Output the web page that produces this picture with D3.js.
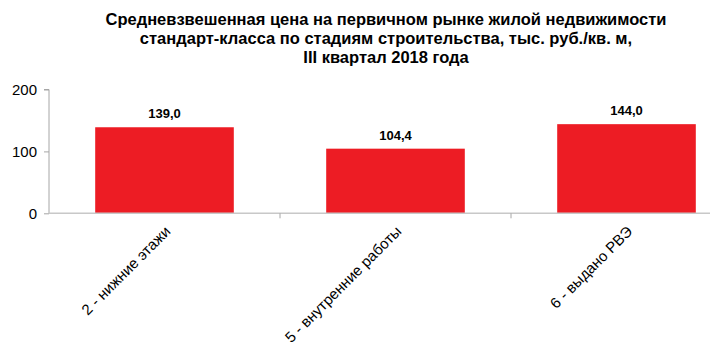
<!DOCTYPE html>
<html lang="ru">
<head>
<meta charset="UTF-8">
<title>Chart</title>
<style>
  body { margin: 0; background: #fff; }
  svg { font-family: "Liberation Sans", Arial, sans-serif; }
</style>
</head>
<body>
<svg width="710" height="352" id="svg"></svg>
<script src="https://d3js.org/d3.v7.min.js"></script>
<script>
const categories = ["2 - нижние этажи", "5 - внутренние работы", "6 - выдано РВЭ"]
const values = [139.0, 104.4, 144.0]
const yTicks = [0, 100, 200]
const titleLines = [
  "Средневзвешенная цена на первичном рынке жилой недвижимости",
  "стандарт-класса по стадиям строительства, тыс. руб./кв. м,",
  "III квартал 2018 года"
]

const svg = d3.select("svg#svg")
const plotLeft = 49, plotRight = 742, plotTop = 89.5, plotBottom = 213.3

const x = d3.scaleBand().domain(categories).range([plotLeft, plotRight])
  .paddingInner(0.4).paddingOuter(0.2)
const y = d3.scaleLinear().domain([0, 200]).range([plotBottom, plotTop])
const fmt = v => d3.format(".1f")(v).replace(".", ",")

// title
svg.append("text")
  .attr("text-anchor", "middle")
  .attr("font-weight", "bold")
  .attr("font-size", 16.5)
  .selectAll("tspan").data(titleLines).join("tspan")
  .attr("x", 386)
  .attr("y", (d, i) => 25 + i * 19)
  .text(d => d)

// bars
svg.append("g").selectAll("rect").data(values).join("rect")
  .attr("x", (d, i) => x(categories[i]))
  .attr("y", d => y(d))
  .attr("width", x.bandwidth())
  .attr("height", d => y(0) - y(d))
  .attr("fill", "#ed1c24")

// value labels
svg.append("g").selectAll("text").data(values).join("text")
  .attr("x", (d, i) => x(categories[i]) + x.bandwidth() / 2)
  .attr("y", d => y(d) - 9)
  .attr("text-anchor", "middle")
  .attr("font-weight", "bold")
  .attr("font-size", 13)
  .text(d => fmt(d))

// y axis
const yAxis = svg.append("g").attr("transform", `translate(${plotLeft},0)`)
  .call(d3.axisLeft(y).tickValues(yTicks).tickSize(5).tickPadding(7).tickFormat(d3.format("d")))
yAxis.select(".domain").attr("stroke", "#a6a6a6").attr("d", `M-5,${plotTop}H0V${plotBottom}`)
yAxis.selectAll(".tick line").attr("stroke", "#a6a6a6")
yAxis.selectAll(".tick text").attr("font-size", 15).attr("fill", "#000").attr("font-family", "Liberation Sans, Arial, sans-serif")

// x axis
const xAxis = svg.append("g").attr("transform", `translate(0,${plotBottom})`)
xAxis.append("line").attr("x1", plotLeft).attr("x2", plotRight).attr("stroke", "#c8c8c8").attr("stroke-width", 1.5)
xAxis.selectAll(".sep").data(categories.slice(1)).join("line")
  .attr("x1", d => x(d) - x.step() * x.paddingInner() / 2)
  .attr("x2", d => x(d) - x.step() * x.paddingInner() / 2)
  .attr("y1", 0).attr("y2", 5).attr("stroke", "#a6a6a6")

// category labels
xAxis.selectAll(".lbl").data(categories).join("text")
  .attr("transform", d => `translate(${x(d) + x.bandwidth() / 2 + 7},${19}) rotate(-45)`)
  .attr("text-anchor", "end")
  .attr("font-size", 15)
  .text(d => d)
</script>
</body>
</html>
